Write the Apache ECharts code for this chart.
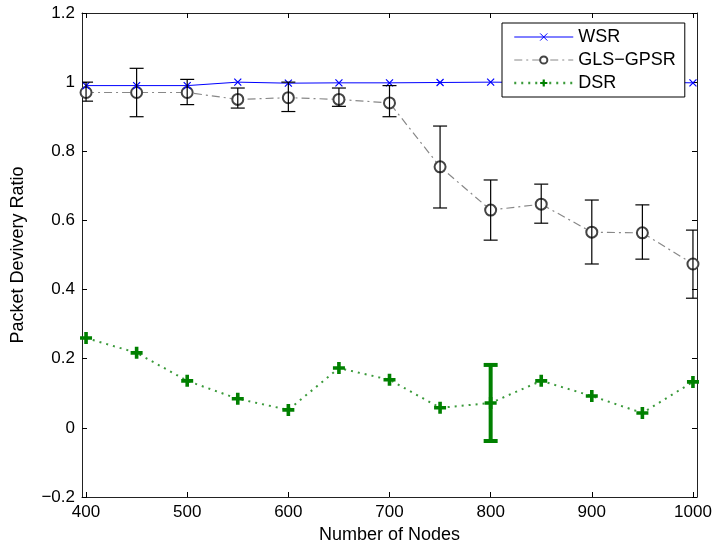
<!DOCTYPE html>
<html>
<head>
<meta charset="utf-8">
<script src="https://cdn.jsdelivr.net/npm/echarts@6/dist/echarts.min.js"></script>
<style>
  html, body { margin: 0; padding: 0; background: #fff; }
  #chart { width: 716px; height: 549px; }
</style>
</head>
<body>
<div id="chart"></div>
<script>
// node counts on the x axis
const nodes = [400, 450, 500, 550, 600, 650, 700, 750, 800, 850, 900, 950, 1000];
const xTicks = [400, 500, 600, 700, 800, 900, 1000];

// WSR delivery ratio
const wsr = [0.99, 0.99, 0.99, 1.0, 0.997, 0.998, 0.998, 0.999, 1.0, 0.999, 1.0, 1.0, 0.998];

// GLS-GPSR mean with error bar ends
const gls = [0.97, 0.97, 0.97, 0.95, 0.955, 0.95, 0.94, 0.755, 0.63, 0.647, 0.566, 0.564, 0.474];
const glsLow = [0.945, 0.90, 0.935, 0.925, 0.915, 0.93, 0.90, 0.636, 0.543, 0.592, 0.474, 0.488, 0.375];
const glsHigh = [1.0, 1.04, 1.008, 0.983, 1.0, 0.983, 0.99, 0.873, 0.717, 0.705, 0.659, 0.645, 0.572];

// DSR mean, only one error bar shown (at 800)
const dsr = [0.26, 0.217, 0.136, 0.084, 0.052, 0.173, 0.139, 0.058, 0.072, 0.136, 0.092, 0.043, 0.133];
const dsrBarX = [800];
const dsrBarLow = [-0.038];
const dsrBarHigh = [0.182];

const chart = echarts.init(document.getElementById('chart'));

const FONT = 'Liberation Sans, Arial, Helvetica, sans-serif';

function errorBar(color, width, capHalf) {
    return function (params, api) {
        const x = api.value(0);
        const lo = api.coord([x, api.value(1)]);
        const hi = api.coord([x, api.value(2)]);
        const st = { stroke: color, lineWidth: width };
        return {
            type: 'group',
            children: [
                { type: 'line', shape: { x1: lo[0], y1: lo[1], x2: hi[0], y2: hi[1] }, style: st },
                { type: 'line', shape: { x1: lo[0] - capHalf, y1: lo[1], x2: lo[0] + capHalf, y2: lo[1] }, style: st },
                { type: 'line', shape: { x1: hi[0] - capHalf, y1: hi[1], x2: hi[0] + capHalf, y2: hi[1] }, style: st }
            ]
        };
    };
}

const yFmt = v => {
    const r = Math.round(v * 10) / 10;
    return String(r).replace('-', '\u2212');
};

const tickStyle = { lineStyle: { color: '#000', width: 1 } };
const axisLine = { show: true, onZero: false, lineStyle: { color: '#222', width: 1 } };

const option = {
    backgroundColor: '#fff',
    animation: false,
    textStyle: { fontFamily: FONT },
    grid: { left: 82, top: 13, right: 19, bottom: 50, show: false },
    legend: {
        orient: 'vertical',
        left: 502,
        top: 23,
        z: 10,
        padding: [5, 9, 5, 11],
        itemWidth: 59,
        itemHeight: 9,
        itemGap: 5,
        borderColor: '#000',
        borderWidth: 1,
        backgroundColor: '#fff',
        textStyle: { fontSize: 18, lineHeight: 18, color: '#000', fontFamily: FONT },
        data: [
            { name: 'WSR', lineStyle: { width: 1 }, itemStyle: { borderWidth: 1 } },
            { name: 'GLS\u2212GPSR', lineStyle: { width: 1 } },
            { name: 'DSR', lineStyle: { width: 2.5 } }
        ]
    },
    xAxis: [{
        type: 'value',
        min: 396, max: 1004,
        position: 'bottom',
        name: 'Number of Nodes',
        nameLocation: 'middle',
        nameGap: 29,
        nameTextStyle: { fontSize: 18, color: '#000', fontFamily: FONT },
        axisLine: axisLine,
        axisTick: Object.assign({ show: true, inside: true, length: 5, customValues: xTicks }, tickStyle),
        axisLabel: { customValues: xTicks, formatter: v => String(v), fontSize: 17, color: '#000', margin: 7, fontFamily: FONT },
        splitLine: { show: false }
    }, {
        type: 'value',
        min: 396, max: 1004,
        position: 'top',
        axisLine: axisLine,
        axisTick: Object.assign({ show: true, inside: true, length: 5, customValues: xTicks }, tickStyle),
        axisLabel: { show: false },
        splitLine: { show: false }
    }],
    yAxis: [{
        type: 'value',
        min: -0.2, max: 1.2, interval: 0.2,
        position: 'left',
        name: 'Packet Devivery Ratio',
        nameLocation: 'middle',
        nameGap: 55,
        nameTextStyle: { fontSize: 18, color: '#000', fontFamily: FONT },
        axisLine: axisLine,
        axisTick: Object.assign({ show: true, inside: true, length: 5 }, tickStyle),
        axisLabel: { formatter: yFmt, fontSize: 17, color: '#000', margin: 7, fontFamily: FONT },
        splitLine: { show: false }
    }, {
        type: 'value',
        min: -0.2, max: 1.2, interval: 0.2,
        position: 'right',
        axisLine: axisLine,
        axisTick: Object.assign({ show: true, inside: true, length: 5 }, tickStyle),
        axisLabel: { show: false },
        splitLine: { show: false }
    }],
    series: [{
        name: 'WSR',
        type: 'line',
        data: nodes.map((x, i) => [x, wsr[i]]),
        symbol: 'path://M0,0L10,10M0,10L10,0',
        symbolSize: 7,
        itemStyle: { color: '#0000ff', borderColor: '#0000ff', borderWidth: 1.2 },
        lineStyle: { color: '#0000ff', width: 1 },
        z: 4
    }, {
        name: 'GLS\u2212GPSR',
        type: 'line',
        data: nodes.map((x, i) => [x, gls[i]]),
        symbol: 'emptyCircle',
        symbolSize: 11,
        itemStyle: { color: '#444', borderWidth: 1.2 },
        lineStyle: { color: '#888', width: 1.2, type: [8, 4, 2, 4] },
        z: 3
    }, {
        name: 'DSR',
        type: 'line',
        data: nodes.map((x, i) => [x, dsr[i]]),
        symbol: 'path://M3.5,0H6.5V3.5H10V6.5H6.5V10H3.5V6.5H0V3.5H3.5Z',
        symbolSize: 12,
        itemStyle: { color: '#008000' },
        lineStyle: { color: '#3a9a3a', width: 2, type: [2, 5] },
        z: 3
    }, {
        name: 'glsErr',
        type: 'custom',
        renderItem: errorBar('#000', 1.2, 7),
        data: nodes.map((x, i) => [x, glsLow[i], glsHigh[i]]),
        encode: { x: 0, y: [1, 2] },
        clip: true,
        z: 5
    }, {
        name: 'dsrErr',
        type: 'custom',
        renderItem: errorBar('#008000', 4, 7),
        data: dsrBarX.map((x, i) => [x, dsrBarLow[i], dsrBarHigh[i]]),
        encode: { x: 0, y: [1, 2] },
        clip: true,
        z: 5
    }]
};

chart.setOption(option);
</script>
</body>
</html>
